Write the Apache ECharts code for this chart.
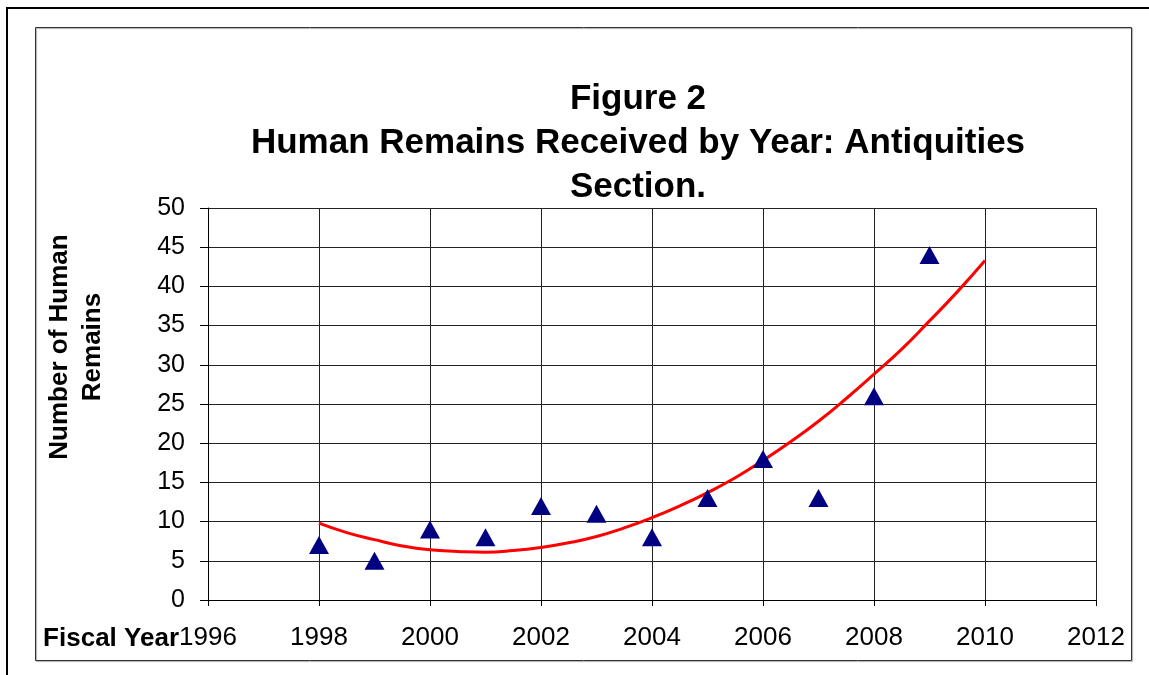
<!DOCTYPE html>
<html>
<head>
<meta charset="utf-8">
<script src="https://cdn.jsdelivr.net/npm/echarts@6/dist/echarts.min.js"></script>
<style>
  html, body { margin: 0; padding: 0; background: #fff; }
  #chart { width: 1149px; height: 675px; }
</style>
</head>
<body>
<div id="chart"></div>
<script>
// fiscal years and number of human remains received
var years = [1998, 1999, 2000, 2001, 2002, 2003, 2004, 2005, 2006, 2007, 2008, 2009]
var remains = [7, 5, 9, 8, 12, 11, 8, 13, 18, 13, 26, 44]

// red trend line, every half year
var trendYears = [1998, 1998.5, 1999, 1999.5, 2000, 2000.5, 2001, 2001.5, 2002, 2002.5, 2003, 2003.5,
  2004, 2004.5, 2005, 2005.5, 2006, 2006.5, 2007, 2007.5, 2008, 2008.5, 2009, 2009.5, 2010]
var trendValues = [9.8, 8.6, 7.7, 6.9, 6.4, 6.2, 6.1, 6.3, 6.7, 7.3, 8.1, 9.2,
  10.5, 12.0, 13.7, 15.6, 17.8, 20.2, 22.8, 25.7, 28.8, 32.0, 35.6, 39.3, 43.3]

var titleText = 'Figure 2\nHuman Remains Received by Year: Antiquities\nSection.'
var yName = 'Number of Human\nRemains'
var xName = 'Fiscal Year'

var FONT = '"Liberation Sans", Arial, sans-serif'

var myChart = echarts.init(document.getElementById('chart'))

myChart.setOption({
  animation: false,
  backgroundColor: '#fff',
  grid: {
    left: 208,
    top: 208,
    width: 888,
    height: 392
  },
  xAxis: {
    type: 'value',
    min: 1996,
    max: 2012,
    interval: 2,
    axisLine: { show: true, lineStyle: { color: '#000', width: 1 } },
    axisTick: { show: true, inside: false, length: 6, lineStyle: { color: '#000' } },
    axisLabel: {
      color: '#000',
      fontFamily: FONT,
      fontSize: 26,
      margin: 25,
      formatter: function (v) { return String(v) }
    },
    splitLine: { show: true, lineStyle: { color: '#222', width: 1 } }
  },
  yAxis: {
    type: 'value',
    min: 0,
    max: 50,
    interval: 5,
    axisLine: { show: true, lineStyle: { color: '#000', width: 1 } },
    axisTick: { show: true, inside: false, length: 8, lineStyle: { color: '#000' } },
    axisLabel: {
      color: '#000',
      fontFamily: FONT,
      fontSize: 25,
      margin: 23
    },
    splitLine: { show: true, lineStyle: { color: '#222', width: 1 } }
  },
  graphic: [
    // outer frame (top and left edges only)
    {
      type: 'polyline',
      shape: { points: [[7, 675], [7, 8], [1149, 8]] },
      style: { stroke: '#000', lineWidth: 2, fill: null }
    },
    // chart area box
    {
      type: 'rect',
      shape: { x: 35.5, y: 27.5, width: 1096, height: 633 },
      style: { stroke: '#333', lineWidth: 1, fill: null, shadowColor: 'rgba(0,0,0,0.35)', shadowOffsetX: 1, shadowOffsetY: 1, shadowBlur: 1 },
      z: -1
    },
    {
      type: 'text',
      x: 638,
      y: 143,
      style: {
        text: titleText,
        align: 'center',
        verticalAlign: 'middle',
        font: 'bold 35px ' + FONT,
        lineHeight: 44,
        fill: '#000'
      }
    },
    {
      type: 'text',
      x: 76,
      y: 347,
      rotation: Math.PI / 2,
      style: {
        text: yName,
        align: 'center',
        verticalAlign: 'middle',
        font: 'bold 26px ' + FONT,
        lineHeight: 33,
        fill: '#000'
      }
    },
    {
      type: 'text',
      x: 179,
      y: 639,
      style: {
        text: xName,
        align: 'right',
        verticalAlign: 'middle',
        font: 'bold 26px ' + FONT,
        fill: '#000'
      }
    }
  ],
  series: [
    {
      name: 'Trend',
      type: 'line',
      data: trendYears.map(function (y, i) { return [y, trendValues[i]] }),
      showSymbol: false,
      smooth: true,
      lineStyle: { color: '#ff0000', width: 3 },
      z: 2
    },
    {
      name: 'Remains',
      type: 'scatter',
      symbol: 'triangle',
      symbolSize: [20, 18],
      data: years.map(function (y, i) { return [y, remains[i]] }),
      itemStyle: { color: '#000080', opacity: 1 },
      z: 3
    }
  ]
})
</script>
</body>
</html>
